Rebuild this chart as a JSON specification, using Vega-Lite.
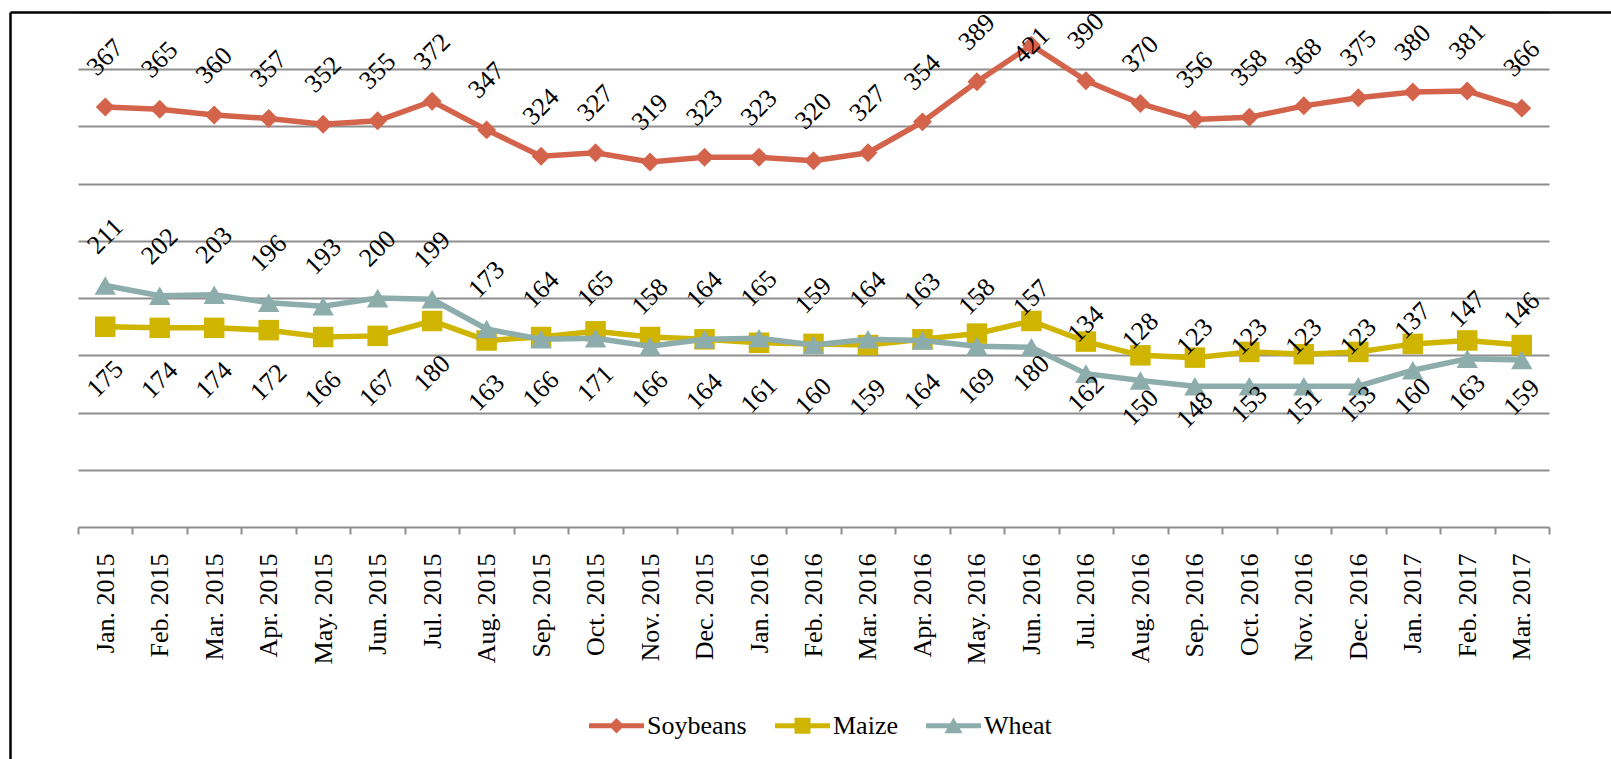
{
  "$schema": "https://vega.github.io/schema/vega-lite/v6.json",
  "width": 1471,
  "height": 515,
  "autosize": {"type": "none"},
  "padding": {"left": 78, "top": 12, "right": 62, "bottom": 232},
  "background": "#ffffff",
  "config": {"view": {"stroke": null}, "font": "Liberation Serif"},
  "datasets": {
    "prices": [
      {"month": "Jan. 2015", "series": "Soybeans", "price": 367},
      {"month": "Feb. 2015", "series": "Soybeans", "price": 365},
      {"month": "Mar. 2015", "series": "Soybeans", "price": 360},
      {"month": "Apr. 2015", "series": "Soybeans", "price": 357},
      {"month": "May. 2015", "series": "Soybeans", "price": 352},
      {"month": "Jun. 2015", "series": "Soybeans", "price": 355},
      {"month": "Jul. 2015", "series": "Soybeans", "price": 372},
      {"month": "Aug. 2015", "series": "Soybeans", "price": 347},
      {"month": "Sep. 2015", "series": "Soybeans", "price": 324},
      {"month": "Oct. 2015", "series": "Soybeans", "price": 327},
      {"month": "Nov. 2015", "series": "Soybeans", "price": 319},
      {"month": "Dec. 2015", "series": "Soybeans", "price": 323},
      {"month": "Jan. 2016", "series": "Soybeans", "price": 323},
      {"month": "Feb. 2016", "series": "Soybeans", "price": 320},
      {"month": "Mar. 2016", "series": "Soybeans", "price": 327},
      {"month": "Apr. 2016", "series": "Soybeans", "price": 354},
      {"month": "May. 2016", "series": "Soybeans", "price": 389},
      {"month": "Jun. 2016", "series": "Soybeans", "price": 421},
      {"month": "Jul. 2016", "series": "Soybeans", "price": 390},
      {"month": "Aug. 2016", "series": "Soybeans", "price": 370},
      {"month": "Sep. 2016", "series": "Soybeans", "price": 356},
      {"month": "Oct. 2016", "series": "Soybeans", "price": 358},
      {"month": "Nov. 2016", "series": "Soybeans", "price": 368},
      {"month": "Dec. 2016", "series": "Soybeans", "price": 375},
      {"month": "Jan. 2017", "series": "Soybeans", "price": 380},
      {"month": "Feb. 2017", "series": "Soybeans", "price": 381},
      {"month": "Mar. 2017", "series": "Soybeans", "price": 366},
      {"month": "Jan. 2015", "series": "Maize", "price": 175},
      {"month": "Feb. 2015", "series": "Maize", "price": 174},
      {"month": "Mar. 2015", "series": "Maize", "price": 174},
      {"month": "Apr. 2015", "series": "Maize", "price": 172},
      {"month": "May. 2015", "series": "Maize", "price": 166},
      {"month": "Jun. 2015", "series": "Maize", "price": 167},
      {"month": "Jul. 2015", "series": "Maize", "price": 180},
      {"month": "Aug. 2015", "series": "Maize", "price": 163},
      {"month": "Sep. 2015", "series": "Maize", "price": 166},
      {"month": "Oct. 2015", "series": "Maize", "price": 171},
      {"month": "Nov. 2015", "series": "Maize", "price": 166},
      {"month": "Dec. 2015", "series": "Maize", "price": 164},
      {"month": "Jan. 2016", "series": "Maize", "price": 161},
      {"month": "Feb. 2016", "series": "Maize", "price": 160},
      {"month": "Mar. 2016", "series": "Maize", "price": 159},
      {"month": "Apr. 2016", "series": "Maize", "price": 164},
      {"month": "May. 2016", "series": "Maize", "price": 169},
      {"month": "Jun. 2016", "series": "Maize", "price": 180},
      {"month": "Jul. 2016", "series": "Maize", "price": 162},
      {"month": "Aug. 2016", "series": "Maize", "price": 150},
      {"month": "Sep. 2016", "series": "Maize", "price": 148},
      {"month": "Oct. 2016", "series": "Maize", "price": 153},
      {"month": "Nov. 2016", "series": "Maize", "price": 151},
      {"month": "Dec. 2016", "series": "Maize", "price": 153},
      {"month": "Jan. 2017", "series": "Maize", "price": 160},
      {"month": "Feb. 2017", "series": "Maize", "price": 163},
      {"month": "Mar. 2017", "series": "Maize", "price": 159},
      {"month": "Jan. 2015", "series": "Wheat", "price": 211},
      {"month": "Feb. 2015", "series": "Wheat", "price": 202},
      {"month": "Mar. 2015", "series": "Wheat", "price": 203},
      {"month": "Apr. 2015", "series": "Wheat", "price": 196},
      {"month": "May. 2015", "series": "Wheat", "price": 193},
      {"month": "Jun. 2015", "series": "Wheat", "price": 200},
      {"month": "Jul. 2015", "series": "Wheat", "price": 199},
      {"month": "Aug. 2015", "series": "Wheat", "price": 173},
      {"month": "Sep. 2015", "series": "Wheat", "price": 164},
      {"month": "Oct. 2015", "series": "Wheat", "price": 165},
      {"month": "Nov. 2015", "series": "Wheat", "price": 158},
      {"month": "Dec. 2015", "series": "Wheat", "price": 164},
      {"month": "Jan. 2016", "series": "Wheat", "price": 165},
      {"month": "Feb. 2016", "series": "Wheat", "price": 159},
      {"month": "Mar. 2016", "series": "Wheat", "price": 164},
      {"month": "Apr. 2016", "series": "Wheat", "price": 163},
      {"month": "May. 2016", "series": "Wheat", "price": 158},
      {"month": "Jun. 2016", "series": "Wheat", "price": 157},
      {"month": "Jul. 2016", "series": "Wheat", "price": 134},
      {"month": "Aug. 2016", "series": "Wheat", "price": 128},
      {"month": "Sep. 2016", "series": "Wheat", "price": 123},
      {"month": "Oct. 2016", "series": "Wheat", "price": 123},
      {"month": "Nov. 2016", "series": "Wheat", "price": 123},
      {"month": "Dec. 2016", "series": "Wheat", "price": 123},
      {"month": "Jan. 2017", "series": "Wheat", "price": 137},
      {"month": "Feb. 2017", "series": "Wheat", "price": 147},
      {"month": "Mar. 2017", "series": "Wheat", "price": 146}
    ]
  },
  "layer": [
    {
      "data": {"values": [{"edge": 0}]},
      "mark": {"type": "point", "opacity": 0},
      "encoding": {
        "x": {
          "field": "edge",
          "type": "quantitative",
          "scale": {"domain": [0, 1], "range": [-68, 1533], "nice": false, "zero": false},
          "axis": {"orient": "top", "title": null, "labels": false, "ticks": false, "grid": false, "domain": true, "domainColor": "#000000", "domainWidth": 2.5, "zindex": 3}
        },
        "y": {
          "field": "edge",
          "type": "quantitative",
          "scale": {"domain": [0, 1], "range": [747, 0], "nice": false, "zero": false},
          "axis": {"orient": "left", "offset": 68, "title": null, "labels": false, "ticks": false, "grid": false, "domain": true, "domainColor": "#000000", "domainWidth": 2.5, "zindex": 3}
        }
      }
    },
    {
      "data": {"name": "prices"},
      "encoding": {
        "x": {
          "field": "month",
          "type": "ordinal",
          "sort": null,
          "scale": {"type": "band", "paddingInner": 0, "paddingOuter": 0},
          "axis": {
            "orient": "bottom", "title": null, "labelAngle": 270, "labelAlign": "right", "labelBaseline": "middle",
            "labelFont": "Liberation Serif", "labelFontSize": 26, "labelColor": "#000000", "labelPadding": 19,
            "tickBand": "extent", "tickSize": 7, "tickColor": "#8E8E8E", "tickWidth": 2,
            "domainColor": "#8E8E8E", "domainWidth": 2, "grid": false, "zindex": 1
          }
        },
        "y": {
          "field": "price",
          "type": "quantitative",
          "scale": {"domain": [0, 450], "nice": false},
          "axis": {
            "orient": "left", "title": null, "labels": false, "ticks": false, "domain": false,
            "grid": true, "gridColor": "#8E8E8E", "gridWidth": 2,
            "values": [50, 100, 150, 200, 250, 300, 350, 400, 450], "zindex": 0
          }
        },
        "color": {
          "field": "series",
          "type": "nominal",
          "scale": {"domain": ["Soybeans", "Maize", "Wheat"], "range": ["#D3634A", "#CFB400", "#8DADAC"]},
          "legend": null
        }
      },
      "layer": [
        {"transform": [{"filter": "datum.series === 'Soybeans'"}], "mark": {"type": "line", "strokeWidth": 5.5}},
        {"transform": [{"filter": "datum.series === 'Soybeans'"}], "mark": {"type": "point", "shape": "diamond", "filled": true, "size": 360, "opacity": 1}},
        {"transform": [{"filter": "datum.series === 'Maize'"}], "mark": {"type": "line", "strokeWidth": 5.5}},
        {"transform": [{"filter": "datum.series === 'Maize'"}], "mark": {"type": "point", "shape": "square", "filled": true, "size": 420, "opacity": 1}},
        {"transform": [{"filter": "datum.series === 'Wheat'"}], "mark": {"type": "line", "strokeWidth": 5.5}},
        {"transform": [{"filter": "datum.series === 'Wheat'"}], "mark": {"type": "point", "shape": "triangle-up", "filled": true, "size": 460, "opacity": 1}},
        {
          "mark": {"type": "point", "filled": true, "opacity": 0},
          "encoding": {
            "color": {
              "field": "series",
              "type": "nominal",
              "scale": {"domain": ["Soybeans", "Maize", "Wheat"], "range": ["#D3634A", "#CFB400", "#8DADAC"]},
              "legend": {
                "title": null, "orient": "none", "legendX": 511, "legendY": 686, "direction": "horizontal",
                "symbolSize": 3025, "symbolStrokeWidth": 0, "symbolOpacity": 1,
                "labelFont": "Liberation Serif", "labelFontSize": 26, "labelColor": "#000000",
                "labelOffset": 3, "columnPadding": 28, "padding": 0, "labelLimit": 300
              }
            },
            "shape": {
              "field": "series",
              "type": "nominal",
              "scale": {
                "domain": ["Soybeans", "Maize", "Wheat"],
                "range": [
                  "M-1,-0.09L1,-0.09L1,0.09L-1,0.09ZM0,-0.28L0.28,0L0,0.28L-0.28,0Z",
                  "M-1,-0.09L1,-0.09L1,0.09L-1,0.09ZM-0.29,-0.29L0.29,-0.29L0.29,0.29L-0.29,0.29Z",
                  "M-1,-0.09L1,-0.09L1,0.09L-1,0.09ZM0,-0.3L0.33,0.27L-0.33,0.27Z"
                ]
              },
              "legend": {
                "title": null, "orient": "none", "legendX": 511, "legendY": 686, "direction": "horizontal",
                "symbolSize": 3025, "symbolStrokeWidth": 0, "symbolOpacity": 1,
                "labelFont": "Liberation Serif", "labelFontSize": 26, "labelColor": "#000000",
                "labelOffset": 3, "columnPadding": 28, "padding": 0, "labelLimit": 300
              }
            }
          }
        },
        {
          "transform": [{"filter": "datum.series === 'Soybeans' && datum.price < 400"}],
          "mark": {"type": "text", "angle": 315, "dx": 35, "dy": -35, "align": "center", "baseline": "middle", "font": "Liberation Serif", "fontSize": 26},
          "encoding": {"text": {"field": "price", "type": "quantitative"}, "color": {"value": "#000000"}}
        },
        {
          "transform": [{"filter": "datum.series === 'Soybeans' && datum.price >= 400"}],
          "mark": {"type": "text", "angle": 315, "dx": 0, "dy": 0, "align": "center", "baseline": "middle", "font": "Liberation Serif", "fontSize": 26},
          "encoding": {"text": {"field": "price", "type": "quantitative"}, "color": {"value": "#000000"}}
        },
        {
          "transform": [{"filter": "datum.series === 'Maize'"}],
          "mark": {"type": "text", "angle": 315, "dx": -37, "dy": 37, "align": "center", "baseline": "middle", "font": "Liberation Serif", "fontSize": 26},
          "encoding": {"text": {"field": "price", "type": "quantitative"}, "color": {"value": "#000000"}}
        },
        {
          "transform": [{"filter": "datum.series === 'Wheat'"}],
          "mark": {"type": "text", "angle": 315, "dx": 35, "dy": -35, "align": "center", "baseline": "middle", "font": "Liberation Serif", "fontSize": 26},
          "encoding": {"text": {"field": "price", "type": "quantitative"}, "color": {"value": "#000000"}}
        }
      ],
      "resolve": {"scale": {"color": "independent", "shape": "independent"}}
    }
  ],
  "resolve": {"scale": {"x": "independent", "y": "independent"}}
}
